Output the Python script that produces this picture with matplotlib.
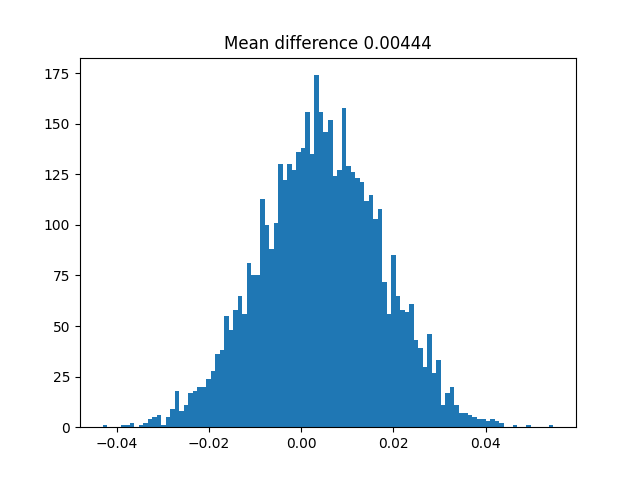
import numpy as np
import matplotlib
matplotlib.use("Agg")
import matplotlib.pyplot as plt

# histogram range and counts (100 equal bins)
bin_lo = -0.0431
bin_hi = 0.0547
counts = [
    1, 0, 0, 0, 1, 1, 2, 0, 1, 2,
    4, 5, 6, 1, 5, 9, 18, 8, 11, 17,
    18, 20, 20, 24, 28, 36, 38, 55, 48, 58,
    65, 56, 81, 75, 75, 113, 100, 88, 101, 130,
    122, 130, 127, 136, 138, 156, 135, 174, 156, 146,
    152, 124, 127, 158, 129, 126, 123, 121, 112, 115,
    103, 108, 72, 56, 85, 65, 58, 57, 61, 43,
    39, 30, 46, 27, 33, 11, 17, 20, 11, 7,
    7, 6, 5, 4, 4, 3, 4, 3, 2, 0,
    0, 1, 0, 0, 1, 0, 0, 0, 0, 1,
]
mean_diff = 0.00444


def main():
    edges = np.linspace(bin_lo, bin_hi, len(counts) + 1)
    fig, ax = plt.subplots(figsize=(6.4, 4.8), dpi=100)
    ax.hist(edges[:-1], bins=edges, weights=counts)
    ax.set_title(f"Mean difference {mean_diff}")
    fig.savefig("out.png")


if __name__ == "__main__":
    main()
